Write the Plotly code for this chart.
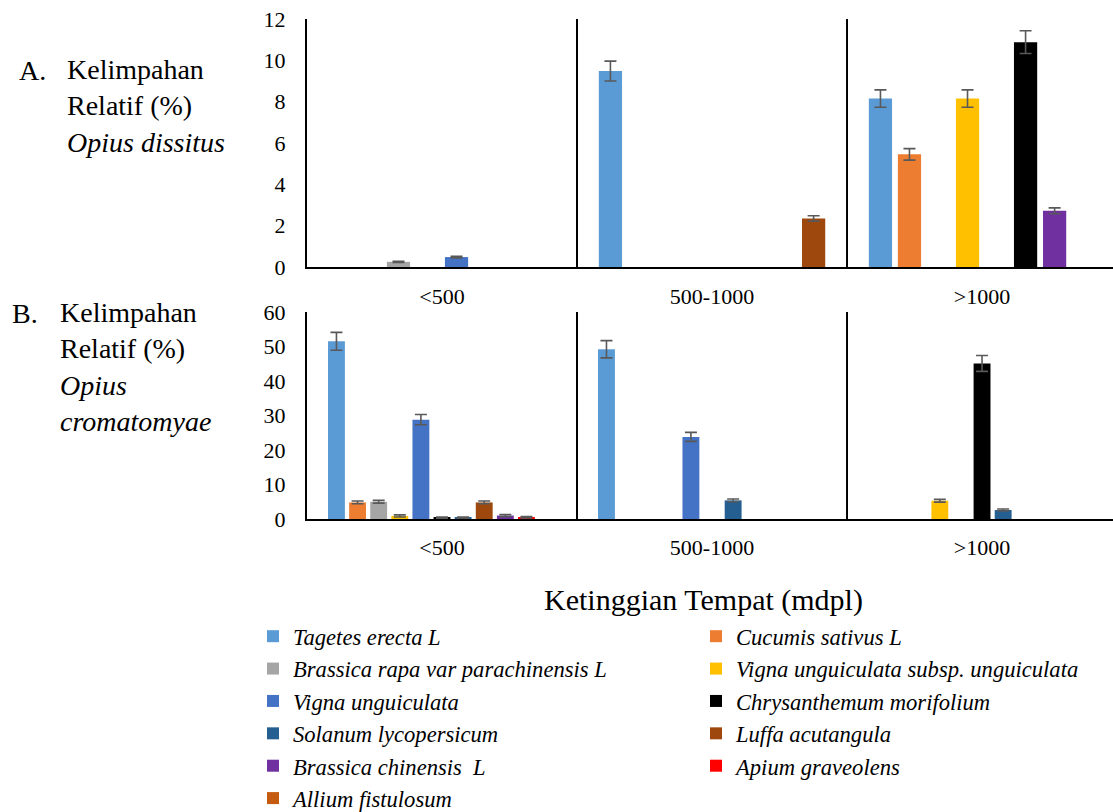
import plotly.graph_objects as go

W, H = 1113, 812

# ---------------- data ----------------
categories = ["<500", "500-1000", ">1000"]

# Panel A: Opius dissitus (relative abundance %, mean and error)
a_tagetes = [None, 9.48, 8.15]
a_tagetes_err = [0, 0.48, 0.42]
a_cucumis = [None, None, 5.45]
a_cucumis_err = [0, 0, 0.28]
a_brassica_rapa = [0.25, None, None]
a_brassica_rapa_err = [0.03, 0, 0]
a_vigna_subsp = [None, None, 8.15]
a_vigna_subsp_err = [0, 0, 0.42]
a_vigna = [0.48, None, None]
a_vigna_err = [0.04, 0, 0]
a_chrysanthemum = [None, None, 10.88]
a_chrysanthemum_err = [0, 0, 0.55]
a_brassica_chinensis = [None, None, 2.72]
a_brassica_chinensis_err = [0, 0, 0.14]
a_luffa = [None, 2.35, None]
a_luffa_err = [0, 0.13, 0]

# Panel B: Opius cromatomyae
b_tagetes = [51.5, 49.2, None]
b_tagetes_err = [2.6, 2.5, 0]
b_cucumis = [4.8, None, None]
b_cucumis_err = [0.4, 0, 0]
b_brassica_rapa = [5.0, None, None]
b_brassica_rapa_err = [0.4, 0, 0]
b_vigna_subsp = [0.9, None, 5.3]
b_vigna_subsp_err = [0.3, 0, 0.4]
b_vigna = [28.8, 23.8, None]
b_vigna_err = [1.5, 1.3, 0]
b_chrysanthemum = [0.4, None, 45.1]
b_chrysanthemum_err = [0.2, 0, 2.3]
b_solanum = [0.4, 5.4, 2.6]
b_solanum_err = [0.2, 0.4, 0.3]
b_luffa = [4.8, None, None]
b_luffa_err = [0.4, 0, 0]
b_brassica_chinensis = [1.0, None, None]
b_brassica_chinensis_err = [0.3, 0, 0]
b_apium = [0.5, None, None]
b_apium_err = [0.2, 0, 0]
b_allium = [0, None, None]
b_allium_err = None

names = {
    "tagetes": "Tagetes erecta L",
    "cucumis": "Cucumis sativus L",
    "brassica_rapa": "Brassica rapa var parachinensis L",
    "vigna_subsp": "Vigna unguiculata subsp. unguiculata",
    "vigna": "Vigna unguiculata",
    "chrysanthemum": "Chrysanthemum morifolium",
    "solanum": "Solanum lycopersicum",
    "luffa": "Luffa acutangula",
    "brassica_chinensis": "Brassica chinensis  L",
    "apium": "Apium graveolens",
    "allium": "Allium fistulosum",
}
colors = {
    "tagetes": "#5B9BD5",
    "cucumis": "#ED7D31",
    "brassica_rapa": "#A5A5A5",
    "vigna_subsp": "#FFC000",
    "vigna": "#4472C4",
    "chrysanthemum": "#000000",
    "solanum": "#255E91",
    "luffa": "#9E480E",
    "brassica_chinensis": "#7030A0",
    "apium": "#FF0000",
    "allium": "#C55A11",
}

panel_a = [
    ("tagetes", a_tagetes, a_tagetes_err),
    ("cucumis", a_cucumis, a_cucumis_err),
    ("brassica_rapa", a_brassica_rapa, a_brassica_rapa_err),
    ("vigna_subsp", a_vigna_subsp, a_vigna_subsp_err),
    ("vigna", a_vigna, a_vigna_err),
    ("chrysanthemum", a_chrysanthemum, a_chrysanthemum_err),
    ("brassica_chinensis", a_brassica_chinensis, a_brassica_chinensis_err),
    ("luffa", a_luffa, a_luffa_err),
]
panel_b = [
    ("tagetes", b_tagetes, b_tagetes_err),
    ("cucumis", b_cucumis, b_cucumis_err),
    ("brassica_rapa", b_brassica_rapa, b_brassica_rapa_err),
    ("vigna_subsp", b_vigna_subsp, b_vigna_subsp_err),
    ("vigna", b_vigna, b_vigna_err),
    ("chrysanthemum", b_chrysanthemum, b_chrysanthemum_err),
    ("solanum", b_solanum, b_solanum_err),
    ("luffa", b_luffa, b_luffa_err),
    ("brassica_chinensis", b_brassica_chinensis, b_brassica_chinensis_err),
    ("apium", b_apium, b_apium_err),
    ("allium", b_allium, b_allium_err),
]

FONT = "Liberation Serif, Times New Roman, serif"
ERR_COLOR = "#595959"


def fx(px):
    return px / W


def fy(py):
    return 1 - py / H


def err_spec(errs):
    if errs is None:
        return dict(visible=False)
    return dict(type="data", array=errs, color=ERR_COLOR, thickness=1.6, width=6)


fig = go.Figure()

for key, vals, errs in panel_a:
    fig.add_trace(go.Bar(
        x=categories, y=vals, name=names[key],
        marker=dict(color=colors[key], line=dict(width=0)),
        error_y=err_spec(errs),
        xaxis="x", yaxis="y", showlegend=False, legendgroup=key,
    ))

left_col = ["tagetes", "brassica_rapa", "vigna", "solanum", "brassica_chinensis", "allium"]
for key, vals, errs in panel_b:
    fig.add_trace(go.Bar(
        x=categories, y=vals, name="<i>" + names[key] + "</i>",
        marker=dict(color=colors[key], line=dict(width=0)),
        error_y=err_spec(errs),
        xaxis="x2", yaxis="y2", legendgroup=key,
        legend="legend" if key in left_col else "legend2",
    ))

x_dom = [fx(307), 1.0]
x_range = [-0.5, 2.485]
common_x = dict(
    type="category", range=x_range, domain=x_dom, showline=True, linecolor="black",
    linewidth=2, ticks="", showgrid=False, zeroline=False, automargin=False,
    tickfont=dict(family=FONT, size=22, color="black"),
)
common_y = dict(
    showline=True, linecolor="black", linewidth=2, ticks="", showgrid=False,
    zeroline=False, automargin=False, tickfont=dict(family=FONT, size=22, color="black"),
    ticklabelstandoff=15,
)

LEG_FONT = dict(family=FONT, size=22.6, color="black")

fig.update_layout(
    width=W, height=H, autosize=False,
    margin=dict(l=0, r=0, t=0, b=0, pad=0, autoexpand=False),
    paper_bgcolor="white", plot_bgcolor="white",
    barmode="group", bargap=0.14, bargroupgap=0.2,
    font=dict(family=FONT, color="black"),
    xaxis=dict(anchor="y", ticklabelstandoff=9, **common_x),
    yaxis=dict(anchor="x", domain=[fy(267), fy(19)], range=[0, 12], dtick=2, **common_y),
    xaxis2=dict(anchor="y2", ticklabelstandoff=8, **common_x),
    yaxis2=dict(anchor="x2", domain=[fy(519), fy(312)], range=[0, 60], dtick=10, **common_y),
    legend=dict(
        x=fx(253), y=fy(615), xanchor="left", yanchor="top", font=LEG_FONT,
        bgcolor="rgba(0,0,0,0)", itemwidth=30, tracegroupgap=0,
    ),
    legend2=dict(
        x=fx(696), y=fy(615), xanchor="left", yanchor="top", font=LEG_FONT,
        bgcolor="rgba(0,0,0,0)", itemwidth=30, tracegroupgap=0,
    ),
    showlegend=True,
)

# group separators
shapes = []
for xr, yr in (("x", "y domain"), ("x2", "y2 domain")):
    for xv in (0.5, 1.5):
        shapes.append(dict(type="line", xref=xr, yref=yr, x0=xv, x1=xv, y0=0, y1=1,
                           line=dict(color="black", width=2)))
fig.update_layout(shapes=shapes)

ann_font = dict(family=FONT, size=28, color="black")
annotations = [
    dict(text="A.", x=fx(17), y=fy(70), xanchor="left", yanchor="middle"),
    dict(text="Kelimpahan<br>Relatif (%)<br><i>Opius dissitus</i>", x=fx(65), y=fy(52),
         xanchor="left", yanchor="top", align="left"),
    dict(text="B.", x=fx(10), y=fy(313), xanchor="left", yanchor="middle"),
    dict(text="Kelimpahan<br>Relatif (%)<br><i>Opius</i><br><i>cromatomyae</i>", x=fx(58),
         y=fy(295), xanchor="left", yanchor="top", align="left"),
    dict(text="Ketinggian Tempat (mdpl)", x=fx(703), y=fy(600), xanchor="center",
         yanchor="middle", font=dict(family=FONT, size=30, color="black")),
]
for a in annotations:
    a.update(xref="paper", yref="paper", showarrow=False)
    a.setdefault("font", ann_font)
fig.update_layout(annotations=annotations)

fig.write_html(
    "out.html",
    config={"displayModeBar": False},
    post_script="document.body.style.margin='0';document.body.style.padding='0';",
)
